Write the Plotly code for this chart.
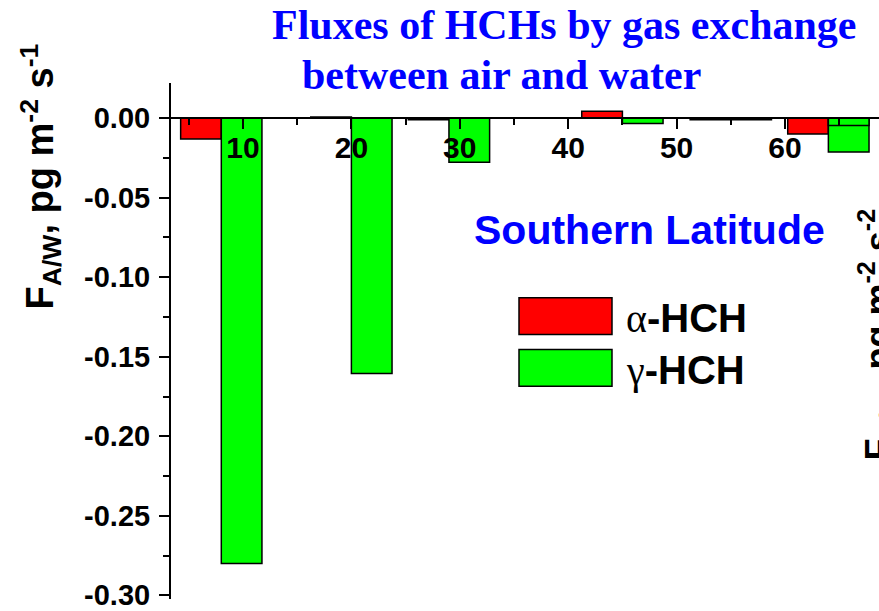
import plotly.graph_objects as go

# ---- data ----
latitude = [8, 20, 29, 45, 55, 64]
alpha_hch = [-0.0131, 0.0007, -0.0010, 0.0044, -0.0010, -0.0100]
gamma_hch = [-0.2800, -0.1605, -0.0277, -0.0034, -0.0010, -0.0213]
gamma_extra_lat = [64]
gamma_extra = [-0.0046]

x_tickvals = [10, 20, 30, 40, 50, 60]
x_ticktext = ["10", "20", "30", "40", "50", "60"]
y_tickvals = [0.0, -0.05, -0.10, -0.15, -0.20, -0.25, -0.30]
y_ticktext = ["0.00", "-0.05", "-0.10", "-0.15", "-0.20", "-0.25", "-0.30"]

W, H = 879, 611
ML, MR, MT, MB = 171, 0, 83, 9
XR = [3.36, 68.67]
YR = [-0.3023, 0.0221]
BW = 3.75

SANS = "Liberation Sans, Arial, sans-serif"
SERIF = "Liberation Serif, Times New Roman, serif"

def px(xp):
    return (xp - ML) / (W - ML - MR)

def py(yp):
    return (H - MB - yp) / (H - MT - MB)

fig = go.Figure()
fig.add_trace(go.Bar(x=latitude, y=alpha_hch, name="α-HCH", width=BW, offset=-BW,
                     marker=dict(color="#FF0000", line=dict(color="black", width=1.5))))
fig.add_trace(go.Bar(x=latitude, y=gamma_hch, name="γ-HCH", width=BW, offset=0,
                     marker=dict(color="#00FF00", line=dict(color="black", width=1.5))))
fig.add_trace(go.Bar(x=gamma_extra_lat, y=gamma_extra, name="γ-HCH", width=BW, offset=0,
                     showlegend=False,
                     marker=dict(color="#00FF00", line=dict(color="black", width=1.5))))

zero_pos = (0 - YR[0]) / (YR[1] - YR[0])

fig.update_layout(
    width=W, height=H,
    margin=dict(l=ML, r=MR, t=MT, b=MB),
    paper_bgcolor="white", plot_bgcolor="white",
    barmode="overlay", showlegend=False,
    font=dict(family=SANS, color="black"),
    xaxis=dict(range=XR, anchor="free", position=zero_pos, side="bottom",
               showline=True, linecolor="black", linewidth=2,
               tickvals=x_tickvals, ticktext=x_ticktext,
               ticks="outside", ticklen=10, tickwidth=2, tickcolor="black",
               ticklabelstandoff=-7, ticklabeloverflow="allow",
               tickfont=dict(family=SANS, size=30, weight="bold", color="black"),
               minor=dict(dtick=5, tick0=0, ticks="outside", ticklen=6, tickwidth=2, tickcolor="black"),
               showgrid=False, zeroline=False),
    yaxis=dict(range=YR, showline=True, linecolor="black", linewidth=2,
               tickvals=y_tickvals, ticktext=y_ticktext,
               ticks="outside", ticklen=10, tickwidth=2, tickcolor="black",
               ticklabelstandoff=3, ticklabeloverflow="allow",
               tickfont=dict(family=SANS, size=29, weight="bold", color="black"),
               minor=dict(dtick=0.025, tick0=0, ticks="outside", ticklen=6, tickwidth=2, tickcolor="black"),
               showgrid=False, zeroline=False),
)

ann = []
# title lines
ann.append(dict(text="Fluxes of HCHs by gas exchange", x=px(270), y=py(25), xanchor="left", yanchor="middle",
                font=dict(family=SERIF, size=42, weight="bold", color="#0000FF")))
ann.append(dict(text="between air and water", x=px(300), y=py(75), xanchor="left", yanchor="middle",
                font=dict(family=SERIF, size=42, weight="bold", color="#0000FF")))
# Southern Latitude
ann.append(dict(text="Southern Latitude", x=px(472), y=py(231), xanchor="left", yanchor="middle",
                font=dict(family=SANS, size=41, weight="bold", color="#0000FF")))
# y title
ann.append(dict(text="F<sub>A/W</sub>, pg m<sup>-2</sup> s<sup>-1</sup>", textangle=-90,
                x=px(41), y=py(177), xanchor="center", yanchor="middle",
                font=dict(family=SANS, size=38, weight="bold", color="black")))
# cut-off y title of neighbouring panel
ann.append(dict(text="F<sub>A/W</sub>, pg m<sup>-2</sup> s<sup>-2</sup>", textangle=-90,
                x=px(878), y=py(336), xanchor="center", yanchor="middle",
                font=dict(family=SANS, size=36, weight="bold", color="black")))
# legend texts
ann.append(dict(text="<span style=\"font-family:'Liberation Serif';font-weight:normal\">α</span>-HCH",
                x=px(624), y=py(320), xanchor="left", yanchor="middle",
                font=dict(family=SANS, size=40, weight="bold", color="black")))
ann.append(dict(text="<span style=\"font-family:'Liberation Serif';font-weight:normal\">γ</span>-HCH",
                x=px(624), y=py(372), xanchor="left", yanchor="middle",
                font=dict(family=SANS, size=40, weight="bold", color="black")))
for a in ann:
    a.update(xref="paper", yref="paper", showarrow=False)
fig.update_layout(annotations=ann)

shapes = [
    dict(type="rect", xref="paper", yref="paper", x0=px(519), x1=px(612), y0=py(299), y1=py(336),
         fillcolor="#FF0000", line=dict(color="black", width=1.5)),
    dict(type="rect", xref="paper", yref="paper", x0=px(519), x1=px(612), y0=py(351), y1=py(388),
         fillcolor="#00FF00", line=dict(color="black", width=1.5)),
]
fig.update_layout(shapes=shapes)

fig.write_html("out.html",
               config={"displayModeBar": False},
               post_script="document.body.style.margin='0';document.body.style.padding='0';"
                           "document.body.style.overflow='hidden';")
